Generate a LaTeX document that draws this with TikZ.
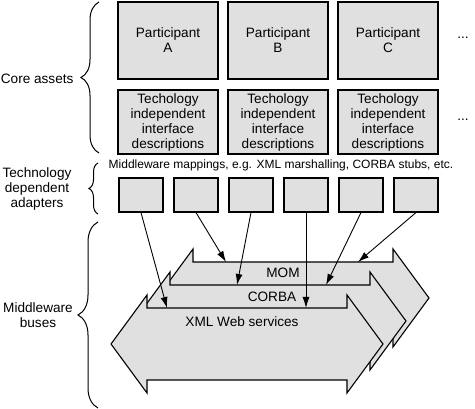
\documentclass[tikz,border=0pt]{standalone}
\usepackage{fontspec}
\setmainfont{Liberation Sans}
\usetikzlibrary{arrows.meta,decorations.pathreplacing}
\definecolor{boxgray}{HTML}{E0E0E0}

\begin{document}
\begin{tikzpicture}[x=1pt, y=-1pt, line width=1.1pt,
  font=\fontsize{13.6}{15}\selectfont,
  box/.style={draw, fill=boxgray, align=center, inner sep=0pt},
  bus/.style={draw, fill=boxgray, line join=miter},
  feed/.style={-{Latex[length=11pt,width=7pt]}, line width=0.9pt},
  curly/.style={decorate, line width=1pt}]
\useasboundingbox (0,0) rectangle (475,409);
% core assets
\foreach \n/\x/\l in {a/168/A, b/278/B, c/388/C}
  {\node[box, minimum width=100, minimum height=77] (part-\n) at (\x,40.5) {Participant\\\l};
   \node[box, minimum width=100, minimum height=64] (desc-\n) at (\x,122) {Techology\\independent\\interface\\descriptions};}
\node (dots-top) at (463,38) {...};
\node (dots-mid) at (463,120) {...};
% adapters
\node[font=\fontsize{12}{14}\selectfont, inner sep=0pt] (mapping) at (281,165) {Middleware mappings, e.g. XML marshalling, CORBA stubs, etc.};
\foreach \i/\x in {1/141, 2/196, 3/251, 4/306, 5/361, 6/416}
  \node[box, minimum width=44, minimum height=34] (adapt\i) at (\x,195) {};
% buses, back to front
\foreach \l/\r/\c in {193/393/298, 170/370/321, 147/347/344}
  \draw[bus] (\l-36,\c) -- (\l,\c-49) -- (\l,\c-36) -- (\r,\c-36) -- (\r,\c-49) -- (\r+36,\c)
    -- (\r,\c+49) -- (\r,\c+36) -- (\l,\c+36) -- (\l,\c+49) -- cycle;
\node[inner sep=0pt] (mom) at (283,273) {MOM};
\node[inner sep=0pt] (corba) at (272,297) {CORBA};
\node[inner sep=0pt] (xml) at (242,322) {XML Web services};
% where the mappings plug in
\coordinate (xml1) at (167,308);
\coordinate (mom1) at (226,262);
\coordinate (corba1) at (237,285);
\coordinate (xml2) at (306,308);
\coordinate (corba2) at (326,285);
\coordinate (mom2) at (358,262);
\foreach \i/\t in {1/xml1, 2/mom1, 3/corba1, 4/xml2, 5/corba2, 6/mom2}
  \draw[feed] (adapt\i.south) -- (\t);
% braces and layer names
\draw[curly, decoration={brace, amplitude=18pt}] (99,153) -- (99,2);
\draw[curly, decoration={brace, amplitude=9pt}] (98,214) -- (98,163);
\draw[curly, decoration={brace, amplitude=20pt}] (98,408) -- (98,222);
\node[anchor=east, inner sep=0pt] (core-lbl) at (74,79) {Core assets};
\node[align=center, inner sep=0pt] (adapt-lbl) at (37,189) {Technology\\dependent\\adapters};
\node[align=center, inner sep=0pt] (bus-lbl) at (38,315) {Middleware\\buses};
\end{tikzpicture}
\end{document}
